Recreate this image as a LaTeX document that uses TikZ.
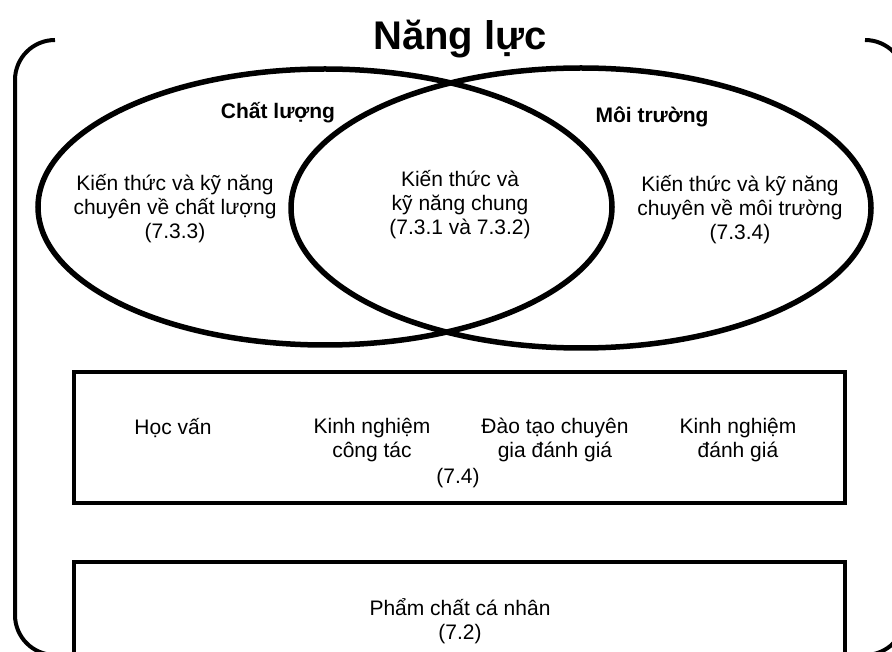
\documentclass[tikz,border=0pt]{standalone}
\usepackage{fontspec}
\setmainfont{Liberation Sans}
\begin{document}
\begin{tikzpicture}[x=1pt,y=-1pt,
  frame/.style={line width=4pt},
  ell/.style={line width=5.5pt},
  box/.style={line width=4pt},
  txt/.style={font=\fontsize{21}{24}\selectfont, align=center, inner sep=0pt},
  lbl/.style={font=\fontsize{21}{24}\selectfont\bfseries, inner sep=0pt},
  ttl/.style={font=\fontsize{40}{44}\selectfont\bfseries, inner sep=0pt}]
\useasboundingbox (0,0) rectangle (892,652);
\begin{scope}
\clip (0,0) rectangle (892,652);
\draw[frame, rounded corners=40pt] (55,40) -- (15,40) -- (15,655) -- (905,655) -- (905,40) -- (865,40);
\draw[box] (74,562) -- (74,670) -- (845,670) -- (845,562) -- cycle;
\end{scope}
\draw[box] (74,372) rectangle (845,503);
\draw[ell] (325,207) ellipse [x radius=287, y radius=138];
\draw[ell] (581,208) ellipse [x radius=290, y radius=140];
\node[ttl] (title) at (460,39) {Năng lực};
\node[lbl] (cl) at (278,113) {Chất lượng};
\node[lbl] (mt) at (652,117) {Môi trường};
\node[txt] (left) at (175,209) {Kiến thức và kỹ năng\\chuyên về chất lượng\\(7.3.3)};
\node[txt] (mid) at (460,205) {Kiến thức và\\kỹ năng chung\\(7.3.1 và 7.3.2)};
\node[txt] (right) at (740,210) {Kiến thức và kỹ năng\\chuyên về môi trường\\(7.3.4)};
\node[txt] (hv) at (173,428) {Học vấn};
\node[txt] (knct) at (372,440) {Kinh nghiệm\\công tác};
\node[txt] (dt) at (555,440) {Đào tạo chuyên\\gia đánh giá};
\node[txt] (kndg) at (738,440) {Kinh nghiệm\\đánh giá};
\node[txt] (s74) at (458,478) {(7.4)};
\node[txt] (pc) at (460,621) {Phẩm chất cá nhân\\(7.2)};
\end{tikzpicture}
\end{document}
